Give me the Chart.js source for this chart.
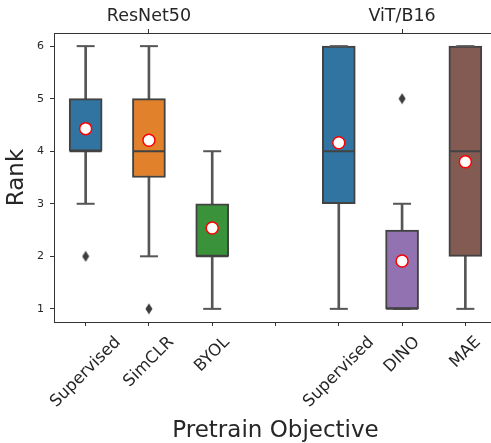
<!DOCTYPE html>
<html>
<head>
<meta charset="utf-8">
<script src="https://cdn.jsdelivr.net/npm/chart.js@4"></script>
<style>
  html, body { margin: 0; padding: 0; overflow: hidden; background: #fff; }
  /* plot runs a little past the right edge of the window, like the original */
  #wrap { width: 497px; height: 443px; }
</style>
</head>
<body>
<div id="wrap"><canvas id="chart"></canvas></div>
<script>
// categories (empty slot separates the two backbones)
const categories = ['Supervised', 'SimCLR', 'BYOL', '', 'Supervised', 'DINO', 'MAE'];
const groupLabels = ['', 'ResNet50', '', '', '', 'ViT/B16', ''];
const yTicks = [1, 2, 3, 4, 5, 6];

// box plot stats per category
const whiskerLow = [3, 2, 1, null, 1, 1, 1];
const q1 = [4, 3.5, 2, null, 3, 1, 2];
const medians = [4, 4, 2, null, 4, 1, 4];
const q3 = [5, 5, 3, null, 6, 2.5, 6];
const whiskerHigh = [6, 6, 4, null, 6, 3, 6];
const means = [4.43, 4.21, 2.54, null, 4.16, 1.91, 3.8];
const outliers = [2, 1, null, null, null, 5, null];

const boxColors = ['#3274a1', '#e1812c', '#3a923a', '#c03d3e', '#3274a1', '#9372b2', '#845b53'];
const edgeGray = '#424242';
const lineGray = '#565656';
const spine = '#333333';
const textColor = '#262626';
const family = 'DejaVu Sans';

Chart.defaults.font.family = family;

// thin diamond for the outliers
const diamond = document.createElement('canvas');
diamond.width = 8;
diamond.height = 12;
const d = diamond.getContext('2d');
d.fillStyle = '#3d3d3d';
d.beginPath();
d.moveTo(4, 0.5); d.lineTo(7.5, 6); d.lineTo(4, 11.5); d.lineTo(0.5, 6);
d.closePath();
d.fill();

// x labels rotated 45deg around their centre (matplotlib style)
const xLabelPlugin = {
  id: 'xLabels',
  afterDraw(chart) {
    const scale = chart.scales.x;
    const ctx = chart.ctx;
    ctx.save();
    ctx.font = '16.5px "' + family + '"';
    ctx.fillStyle = textColor;
    ctx.textAlign = 'center';
    ctx.textBaseline = 'middle';
    categories.forEach((label, i) => {
      if (!label) return;
      const w = ctx.measureText(label).width;
      const x = scale.getPixelForTick(i);
      const y = scale.top + 11 + (w + 19) * Math.SQRT1_2 / 2;
      ctx.save();
      ctx.translate(x, y);
      ctx.rotate(-Math.PI / 4);
      ctx.fillText(label, 0, 0);
      ctx.restore();
    });
    ctx.restore();
  }
};

new Chart(document.getElementById('chart'), {
  type: 'bar',
  data: {
    labels: categories,
    datasets: [
      {
        label: 'whiskers',
        data: whiskerLow.map((v, i) => v == null ? null : [v, whiskerHigh[i]]),
        backgroundColor: lineGray,
        barThickness: 2,
        grouped: false,
        order: 5
      },
      {
        label: 'boxes',
        data: q1.map((v, i) => v == null ? null : [v, q3[i]]),
        backgroundColor: boxColors,
        borderColor: edgeGray,
        borderWidth: 2,
        borderSkipped: false,
        barThickness: 33,
        grouped: false,
        order: 4
      },
      {
        type: 'line', label: 'medians', data: medians, showLine: false,
        pointStyle: 'line', pointRadius: 16, pointBorderWidth: 2, pointBorderColor: edgeGray,
        order: 3
      },
      {
        type: 'line', label: 'caps low', data: whiskerLow, showLine: false,
        pointStyle: 'line', pointRadius: 9, pointBorderWidth: 2, pointBorderColor: lineGray,
        order: 3
      },
      {
        type: 'line', label: 'caps high', data: whiskerHigh, showLine: false,
        pointStyle: 'line', pointRadius: 9, pointBorderWidth: 2, pointBorderColor: lineGray,
        order: 3
      },
      {
        type: 'line', label: 'outliers', data: outliers, showLine: false,
        pointStyle: diamond, order: 2
      },
      {
        type: 'line', label: 'mean', data: means, showLine: false,
        pointStyle: 'circle', pointRadius: 6, pointBackgroundColor: '#ffffff',
        pointBorderColor: '#ff0000', pointBorderWidth: 1.5, order: 1
      }
    ]
  },
  options: {
    responsive: true,
    maintainAspectRatio: false,
    devicePixelRatio: 1,
    animation: false,
    events: [],
    layout: { padding: 0, autoPadding: false },
    plugins: { legend: { display: false }, tooltip: { enabled: false } },
    scales: {
      x: {
        type: 'category',
        offset: true,
        grid: { offset: false, drawOnChartArea: false, tickLength: 4, color: spine },
        border: { color: spine, width: 1 },
        ticks: { display: false },
        title: {
          display: true, text: 'Pretrain Objective', color: textColor,
          font: { size: 23, lineHeight: 1 }, padding: { top: 0, bottom: 0 }
        },
        afterFit: s => { s.height = 121; }
      },
      x2: {
        type: 'category',
        labels: groupLabels,
        position: 'top',
        offset: true,
        grid: {
          offset: false, drawOnChartArea: false, tickLength: 4,
          color: c => groupLabels[c.index] ? spine : 'rgba(0,0,0,0)'
        },
        border: { color: spine, width: 1 },
        ticks: { font: { size: 17.5 }, color: textColor, padding: 2, autoSkip: false, maxRotation: 0 },
        afterFit: s => { s.height = 33; }
      },
      y: {
        min: 0.75,
        max: 6.25,
        afterBuildTicks: s => { s.ticks = yTicks.map(v => ({ value: v })); },
        grid: { drawOnChartArea: false, tickLength: 4, color: spine },
        border: { color: spine, width: 1 },
        ticks: { font: { size: 11 }, color: textColor, padding: 6 },
        title: {
          display: true, text: 'Rank', color: textColor,
          font: { size: 23, lineHeight: 1 }, padding: { top: 6, bottom: 0 }
        },
        afterFit: s => { s.width = 54; }
      }
    }
  },
  plugins: [xLabelPlugin]
});
</script>
</body>
</html>
